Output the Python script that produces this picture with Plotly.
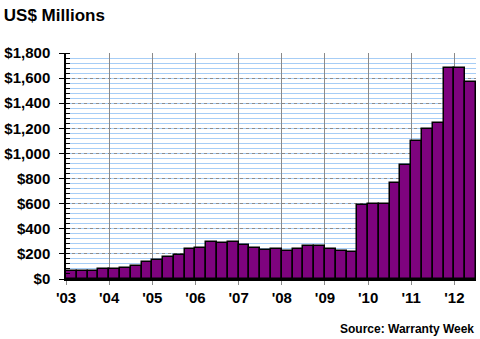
import plotly.graph_objects as go

# Quarterly values, 2003 Q1 .. 2012 Q2 (US$ millions)
quarters = [f"{y}Q{q}" for y in range(2003, 2013) for q in range(1, 5)][:38]
values = [
    65, 62, 64, 78,        # 2003
    79, 88, 104, 133,      # 2004
    150, 172, 188, 241,    # 2005
    249, 292, 284, 292,    # 2006
    273, 249, 228, 236,    # 2007
    220, 241, 265, 265,    # 2008
    241, 220, 212, 588,    # 2009
    598, 595, 761, 907,    # 2010
    1102, 1195, 1240, 1680,  # 2011
    1680, 1573,            # 2012
]
year_labels = ["'03", "'04", "'05", "'06", "'07", "'08", "'09", "'10", "'11", "'12"]
y_ticks = [0, 200, 400, 600, 800, 1000, 1200, 1400, 1600, 1800]
y_labels = ["$0", "$200", "$400", "$600", "$800", "$1,000", "$1,200", "$1,400", "$1,600", "$1,800"]

x_pos = [i + 0.5 for i in range(len(values))]
year_pos = [4 * i for i in range(len(year_labels))]

font_family = "Liberation Sans, Arial, sans-serif"

fig = go.Figure(go.Bar(
    x=x_pos, y=values, width=1,
    marker=dict(color="#7E037E", line=dict(color="#000000", width=1.5)),
    hovertext=quarters,
))

fig.update_layout(
    width=480, height=339,
    margin=dict(l=63, r=4, t=53, b=60),
    paper_bgcolor="white", plot_bgcolor="white",
    showlegend=False,
    bargap=0,
    title=dict(text="US$ Millions", xref="container", x=0.008, xanchor="left",
               yref="container", y=1 - 15 / 339, yanchor="middle",
               font=dict(family=font_family, size=17, color="#000000", weight="bold")),
    annotations=[dict(text="Source: Warranty Week", xref="paper", yref="paper",
                      x=1, xanchor="right", y=-0.222, yanchor="middle", showarrow=False,
                      font=dict(family=font_family, size=12, color="#000000", weight="bold"))],
)

fig.update_xaxes(
    range=[0, 38], tickvals=year_pos, ticktext=year_labels,
    showgrid=True, gridcolor="#8a8a8a", gridwidth=1,
    showline=True, linecolor="#000000", linewidth=1.5,
    ticks="outside", ticklen=4, tickcolor="#8a8a8a",
    tickfont=dict(family=font_family, size=15, color="#000000", weight="bold"),
    zeroline=False,
)
fig.update_yaxes(
    range=[0, 1800], tickvals=y_ticks, ticktext=y_labels,
    showgrid=True, gridcolor="#8c8c8c", gridwidth=1, griddash="dot",
    showline=True, linecolor="#000000", linewidth=1.5,
    ticks="outside", ticklen=5, tickcolor="#000000",
    ticklabelstandoff=6,
    tickfont=dict(family=font_family, size=15, color="#000000", weight="bold"),
    minor=dict(dtick=40, showgrid=True, gridcolor="#a6cdf6", gridwidth=1, griddash="solid",
               ticks="inside", ticklen=4, tickcolor="#000000"),
    zeroline=False,
)

fig.write_html("out.html")
